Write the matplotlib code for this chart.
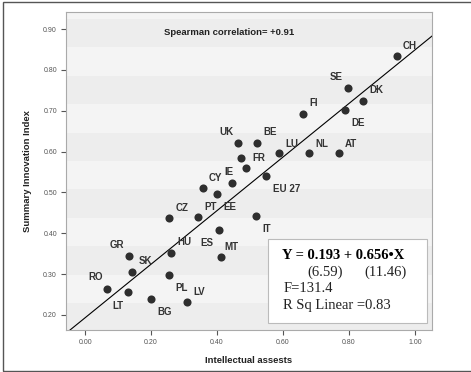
import matplotlib
matplotlib.use("Agg")
import matplotlib.pyplot as plt
from matplotlib.patches import Rectangle
import numpy as np

countries = ['CH', 'SE', 'DK', 'DE', 'FI', 'UK', 'BE', 'LU', 'NL', 'AT', 'FR', '',
             'EU 27', 'IE', 'CY', 'EE', 'CZ', 'PT', 'ES', 'IT', 'MT', 'HU', 'GR',
             'SK', 'PL', 'RO', 'LT', 'BG', 'LV']
intellectual = [0.946, 0.796, 0.843, 0.788, 0.660, 0.464, 0.520, 0.588, 0.679, 0.771,
                0.473, 0.487, 0.548, 0.445, 0.356, 0.401, 0.255, 0.343, 0.405, 0.518,
                0.411, 0.260, 0.134, 0.143, 0.255, 0.066, 0.131, 0.200, 0.308]
sii = [0.834, 0.756, 0.725, 0.702, 0.693, 0.622, 0.622, 0.596, 0.596, 0.596,
       0.584, 0.559, 0.541, 0.522, 0.511, 0.497, 0.438, 0.439, 0.407, 0.443,
       0.341, 0.352, 0.344, 0.306, 0.297, 0.264, 0.256, 0.240, 0.231]

intercept = 0.193
slope = 0.656
x_ticks = [0.0, 0.2, 0.4, 0.6, 0.8, 1.0]
y_ticks = [0.2, 0.3, 0.4, 0.5, 0.6, 0.7, 0.8, 0.9]

# label offsets in pixels (dx, dy) from each point
offsets = {'CH': (12.7, 10.3), 'SE': (-11, 11), 'DK': (13.4, 10.3), 'DE': (13.3, -13.3),
           'FI': (10.6, 10.4), 'UK': (-11.3, 10.4), 'BE': (13.3, 10.4), 'LU': (12.7, 9.7),
           'NL': (12.7, 9.7), 'AT': (11.4, 9.7), 'FR': (17.6, 0), 'EU 27': (20.7, -13.6),
           'IE': (-2.7, 11.3), 'CY': (12.6, 10), 'EE': (12.7, -13), 'CZ': (12.4, 10),
           'PT': (12.4, 10.6), 'ES': (-12, -13), 'IT': (10.7, -13.3), 'MT': (11, 10.6),
           'HU': (13.6, 11), 'GR': (-12, 11), 'SK': (12.7, 10.7), 'PL': (12.4, -12.4),
           'RO': (-11.7, 11.3), 'LT': (-10.6, -13.7), 'BG': (13.3, -13), 'LV': (12.6, 10.6)}

plt.rcParams['font.family'] = ['Liberation Sans', 'DejaVu Sans']

fig = plt.figure(figsize=(4.71, 3.72), dpi=100)
ax = fig.add_axes([0.1401, 0.1129, 0.7771, 0.8548])

# outer frame of the picture
fig.add_artist(Rectangle((3 / 471, 1 / 372), 1.2, (370 - 1) / 372, transform=fig.transFigure,
                         fill=False, edgecolor='#555555', lw=1.0))

ax.set_facecolor('#f4f4f4')
# background bands
band = '#ededed'
edge = 0.084
ax.add_patch(Rectangle((0, 0), 1, edge, transform=ax.transAxes, color=band, lw=0, zorder=0))
k = 0
while edge < 1:
    if k % 2 == 1:
        ax.add_patch(Rectangle((0, edge), 1, min(0.0895, 1 - edge), transform=ax.transAxes,
                               color=band, lw=0, zorder=0))
    edge += 0.0895
    k += 1

ax.set_xlim(-0.058, 1.052)
ax.set_ylim(0.163, 0.942)

xs = np.array(ax.get_xlim())
ax.plot(xs, intercept + slope * xs, color='black', lw=0.8, zorder=2)

ax.scatter(intellectual, sii, s=34, color='#2e2e2e', zorder=3, linewidths=0)

for name, x, y in zip(countries, intellectual, sii):
    if not name:
        continue
    dx, dy = offsets[name]
    ax.annotate(name, (x, y), xytext=(dx, dy), textcoords='offset pixels',
                ha='center', va='center', fontsize=7, fontweight='bold', color='#333333',
                zorder=4)

ax.set_xticks(x_ticks)
ax.set_xticklabels(['%.2f' % v for v in x_ticks])
ax.set_yticks(y_ticks)
ax.set_yticklabels(['%.2f' % v for v in y_ticks])
ax.tick_params(axis='both', direction='out', length=3.5, width=0.8, color='#555555',
               labelsize=5, labelcolor='#555555', pad=3)
for sp in ax.spines.values():
    sp.set_color('#aaaaaa')
    sp.set_linewidth(0.8)

ax.set_xlabel('Intellectual assests', fontsize=6.8, fontweight='bold', color='#222222', labelpad=7)
ax.set_ylabel('Summary Innovation Index', fontsize=6.8, fontweight='bold', color='#222222', labelpad=8)

ax.text(0.445, 0.936, 'Spearman correlation= +0.91', transform=ax.transAxes, ha='center',
        va='center', fontsize=6.8, fontweight='bold', color='#222222')

# regression box
ax.add_patch(Rectangle((0.553, 0.021), 0.4325, 0.264, transform=ax.transAxes,
                       facecolor='white', edgecolor='#bbbbbb', lw=0.8, zorder=5))
serif = ['Liberation Serif', 'DejaVu Serif']
ax.text(0.589, 0.2336, 'Y = 0.193 + 0.656\u2022X', transform=ax.transAxes, va='center',
        fontsize=10.5, fontweight='bold', family=serif, zorder=6)
ax.text(0.659, 0.1814, '(6.59)', transform=ax.transAxes, va='center',
        fontsize=10.5, family=serif, color='#222222', zorder=6)
ax.text(0.815, 0.1814, '(11.46)', transform=ax.transAxes, va='center',
        fontsize=10.5, family=serif, color='#222222', zorder=6)
ax.text(0.594, 0.1299, 'F=131.4', transform=ax.transAxes, va='center',
        fontsize=10.5, family=serif, color='#222222', zorder=6)
ax.text(0.594, 0.0764, 'R Sq Linear =0.83', transform=ax.transAxes, va='center',
        fontsize=10.5, family=serif, color='#222222', zorder=6)

fig.savefig('out.png', dpi=100)
